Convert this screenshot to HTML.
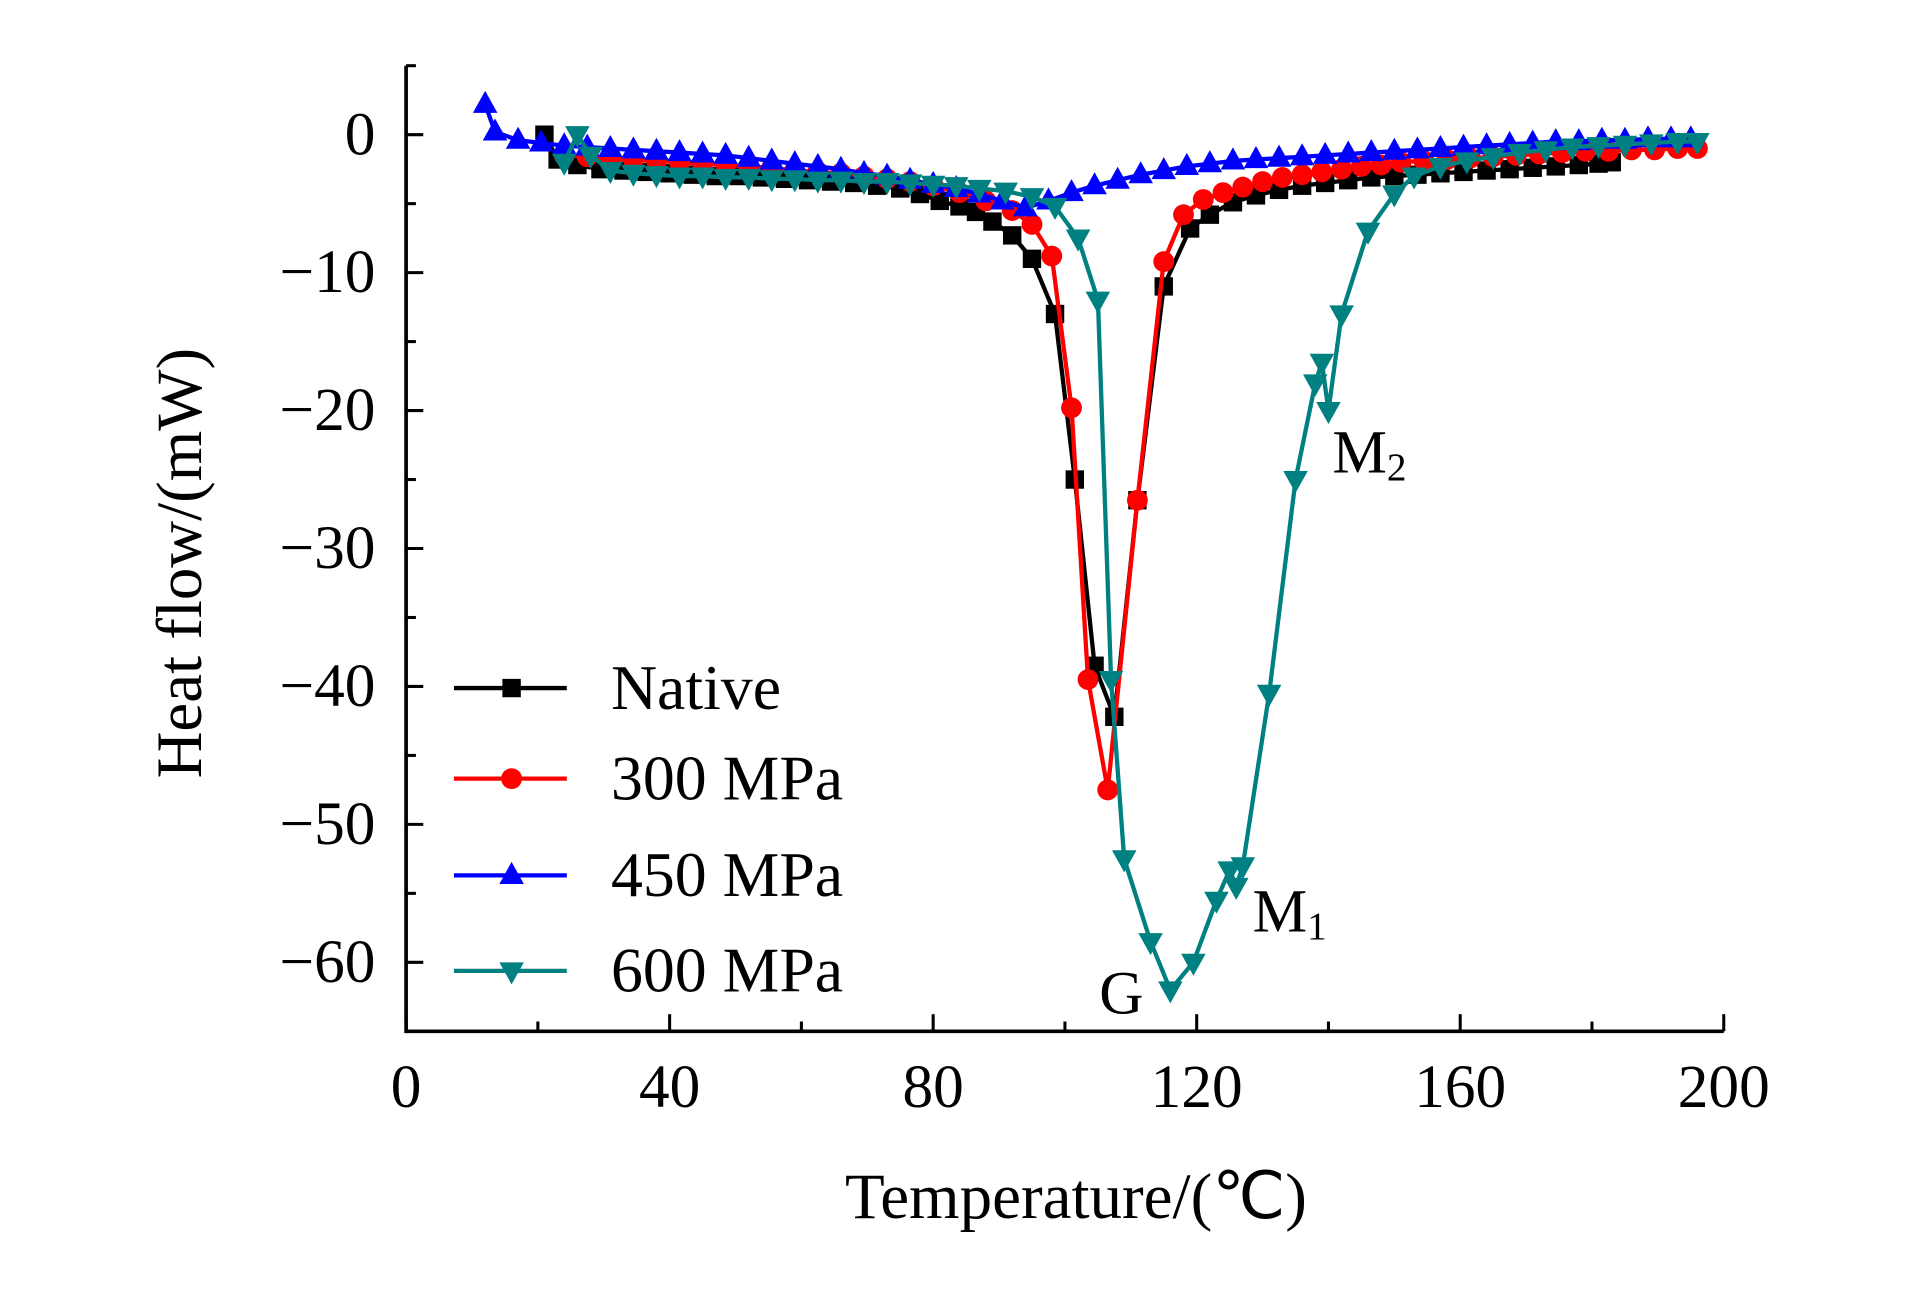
<!DOCTYPE html>
<html><head><meta charset="utf-8"><style>
html,body{margin:0;padding:0;background:#fff;}
svg{display:block;}
text{font-family:"Liberation Serif",serif;fill:#000;}
</style></head><body>
<svg id="chart" width="1923" height="1299" viewBox="0 0 1567.4 1061" preserveAspectRatio="none" xmlns="http://www.w3.org/2000/svg">
<g id="axes"></g>
<g id="series"></g>
<g id="legend"></g>
<text x="0" y="0" font-size="53" text-anchor="middle" transform="translate(164,460) rotate(-90)">Heat flow/(mW)</text>
<text x="877" y="995" font-size="53" text-anchor="middle">Temperature/(℃)</text>
<text x="1086" y="386" font-size="50">M<tspan font-size="32" dy="6">2</tspan></text>
<text x="1021" y="761" font-size="50">M<tspan font-size="32" dy="6">1</tspan></text>
<text x="896" y="828" font-size="50">G</text>
</svg>
<script>
const xTicks=[0,40,80,120,160,200];
const yTicks=[0,-10,-20,-30,-40,-50,-60];
const seriesNames=["Native","300 MPa","450 MPa","600 MPa"];
const nativeT=[21,23,26,29.5,33,36.5,40,43.5,47,50.5,54,57.5,61,64.5,68,71.5,75,78,81,84,86.5,89,92,95,98.5,101.5,104.5,107.5,111,115,119,122,125.5,129,132.5,136,139.5,143,146.5,150,153.5,157,160.5,164,167.5,171,174.5,178,181,183];
const nativeV=[0,-1.8,-2.2,-2.5,-2.6,-2.7,-2.8,-2.9,-3,-3,-3.1,-3.2,-3.3,-3.4,-3.5,-3.7,-3.9,-4.3,-4.8,-5.2,-5.6,-6.3,-7.3,-9,-13,-25,-38.5,-42.2,-26.5,-11,-6.8,-5.8,-4.9,-4.4,-4,-3.7,-3.5,-3.3,-3.1,-3,-2.9,-2.8,-2.7,-2.6,-2.5,-2.4,-2.3,-2.2,-2.1,-2];
const p300T=[24,27.5,31,34.5,38,41.5,45,48.5,52,55.5,59,62.5,66,69.5,73,76.5,80,84,88,92,95,98,101,103.5,106.5,111,115,118,121,124,127,130,133,136,139,142,145,148,151,154.5,158,161.5,165,168.5,172,175.5,179,182.5,186,189.5,193,196];
const p300V=[-1.5,-1.6,-1.7,-1.8,-1.9,-2,-2.1,-2.2,-2.3,-2.4,-2.6,-2.7,-2.8,-3,-3.2,-3.4,-3.7,-4.2,-4.8,-5.5,-6.5,-8.8,-19.8,-39.5,-47.5,-26.5,-9.2,-5.8,-4.7,-4.2,-3.8,-3.4,-3.1,-2.9,-2.7,-2.5,-2.3,-2.2,-2,-1.9,-1.8,-1.7,-1.6,-1.5,-1.4,-1.3,-1.2,-1.2,-1.1,-1.1,-1,-1];
const p450T=[12,13.5,17,20.5,24,27.5,31,34.5,38,41.5,45,48.5,52,55.5,59,62.5,66,69.5,73,76.5,80,83.5,87,90.5,94,97.5,101,104.5,108,111.5,115,118.5,122,125.5,129,132.5,136,139.5,143,146.5,150,153.5,157,160.5,164,167.5,171,174.5,178,181.5,185,188.5,192,195];
const p450V=[2.2,0.2,-0.4,-0.6,-0.8,-0.9,-1,-1.1,-1.2,-1.3,-1.4,-1.5,-1.7,-1.9,-2.1,-2.3,-2.5,-2.8,-3,-3.3,-3.6,-3.9,-4.3,-4.8,-5.3,-4.8,-4.2,-3.7,-3.3,-2.9,-2.6,-2.3,-2.1,-1.9,-1.8,-1.7,-1.6,-1.5,-1.4,-1.3,-1.2,-1.1,-1,-0.9,-0.8,-0.7,-0.6,-0.5,-0.5,-0.4,-0.4,-0.3,-0.3,-0.3];
const p600T=[24,26,28,31,34.5,38,41.5,45,48.5,52,55.5,59,62.5,66,69.5,73,76.5,80,83.5,87,91,95,98.5,102,105,107,109,113,116,119.5,123,125,126,127,131,135,138,139,140,142,146,150,153,157,161,165,169,173,177,181,185,189,193,196];
const p600V=[-2,0,-1.5,-2.6,-2.8,-2.9,-3,-3,-3.1,-3.1,-3.2,-3.2,-3.3,-3.3,-3.4,-3.4,-3.5,-3.6,-3.7,-3.9,-4.1,-4.5,-5.2,-7.5,-12,-39.5,-52.5,-58.5,-62,-60,-55.5,-53.3,-54.5,-53,-40.5,-25,-18,-16.5,-20,-13,-7,-4.3,-3,-2.3,-1.9,-1.6,-1.3,-1.1,-0.9,-0.8,-0.7,-0.6,-0.5,-0.5];
const NS="http://www.w3.org/2000/svg";
const X0=331,X1=1405,Y0=110,PER10=112.67;
function X(t){return X0+(t/200)*(X1-X0);}
function Y(v){return Y0-v*PER10/10;}
function mk(tag,attrs,parent){const e=document.createElementNS(NS,tag);for(const k in attrs)e.setAttribute(k,attrs[k]);parent.appendChild(e);return e;}
const axes=document.getElementById('axes');
const yb=Y(-65),yt=Y(5);
let a=mk('line',{x1:X0,y1:yb,x2:X1,y2:yb,stroke:'#000','stroke-width':3},axes);


a=mk('line',{x1:X0,y1:yb+1.5,x2:X0,y2:yt,stroke:'#000','stroke-width':3},axes);


for(let t=0;t<=200;t+=20){const maj=t%40===0;mk('line',{x1:X(t),y1:yb,x2:X(t),y2:yb-(maj?14:8),stroke:'#000','stroke-width':2.5},axes);}
for(const t of xTicks){const e=mk('text',{x:X(t),y:yb+62,'font-size':50,'text-anchor':'middle'},axes);e.textContent=t;

}
for(let v=5;v>=-65;v-=5){const maj=v%10===0;mk('line',{x1:X0,y1:Y(v),x2:X0+(maj?14:8),y2:Y(v),stroke:'#000','stroke-width':2.5},axes);}
for(const v of yTicks){const e=mk('text',{x:306,y:Y(v)+16,'font-size':50,'text-anchor':'end'},axes);e.textContent=v===0?'0':'\u2212'+Math.abs(v);

}
function marker(kind,x,y,c,p){
 if(kind==='sq')return mk('rect',{x:x-7.5,y:y-7.5,width:15,height:15,fill:c},p);
 if(kind==='ci')return mk('circle',{cx:x,cy:y,r:8.5,fill:c},p);
 if(kind==='up')return mk('polygon',{points:`${x},${y-11} ${x-10},${y+7} ${x+10},${y+7}`,fill:c},p);
 return mk('polygon',{points:`${x},${y+11} ${x-10},${y-7} ${x+10},${y-7}`,fill:c},p);
}
const S=document.getElementById('series');
const defs=[[nativeT,nativeV,'#000','sq','native'],[p300T,p300V,'#f00','ci','300mpa'],[p450T,p450V,'#00f','up','450mpa'],[p600T,p600V,'#008080','dn','600mpa']];
for(const [ts,vs,c,k,n] of defs){
 const g=mk('g',{},S);
 
 
 const pts=ts.map((t,i)=>X(t).toFixed(1)+','+Y(vs[i]).toFixed(1)).join(' ');
 const pl=mk('polyline',{points:pts,fill:'none',stroke:c,'stroke-width':3.5,'stroke-linejoin':'round'},g);
 
 
 ts.forEach((t,i)=>{const m=marker(k,X(t),Y(vs[i]),c,g);
 
 });
}
const L=document.getElementById('legend');
const ly=[562,636,715,793];
defs.forEach((d,i)=>{
 const g=mk('g',{},L);
 
 
 mk('line',{x1:370,y1:ly[i],x2:462,y2:ly[i],stroke:d[2],'stroke-width':3.5},g);
 marker(d[3],417,ly[i],d[2],g);
 const t=mk('text',{x:498,y:ly[i]+17,'font-size':52},g);t.textContent=seriesNames[i];
});
</script>
</body></html>
